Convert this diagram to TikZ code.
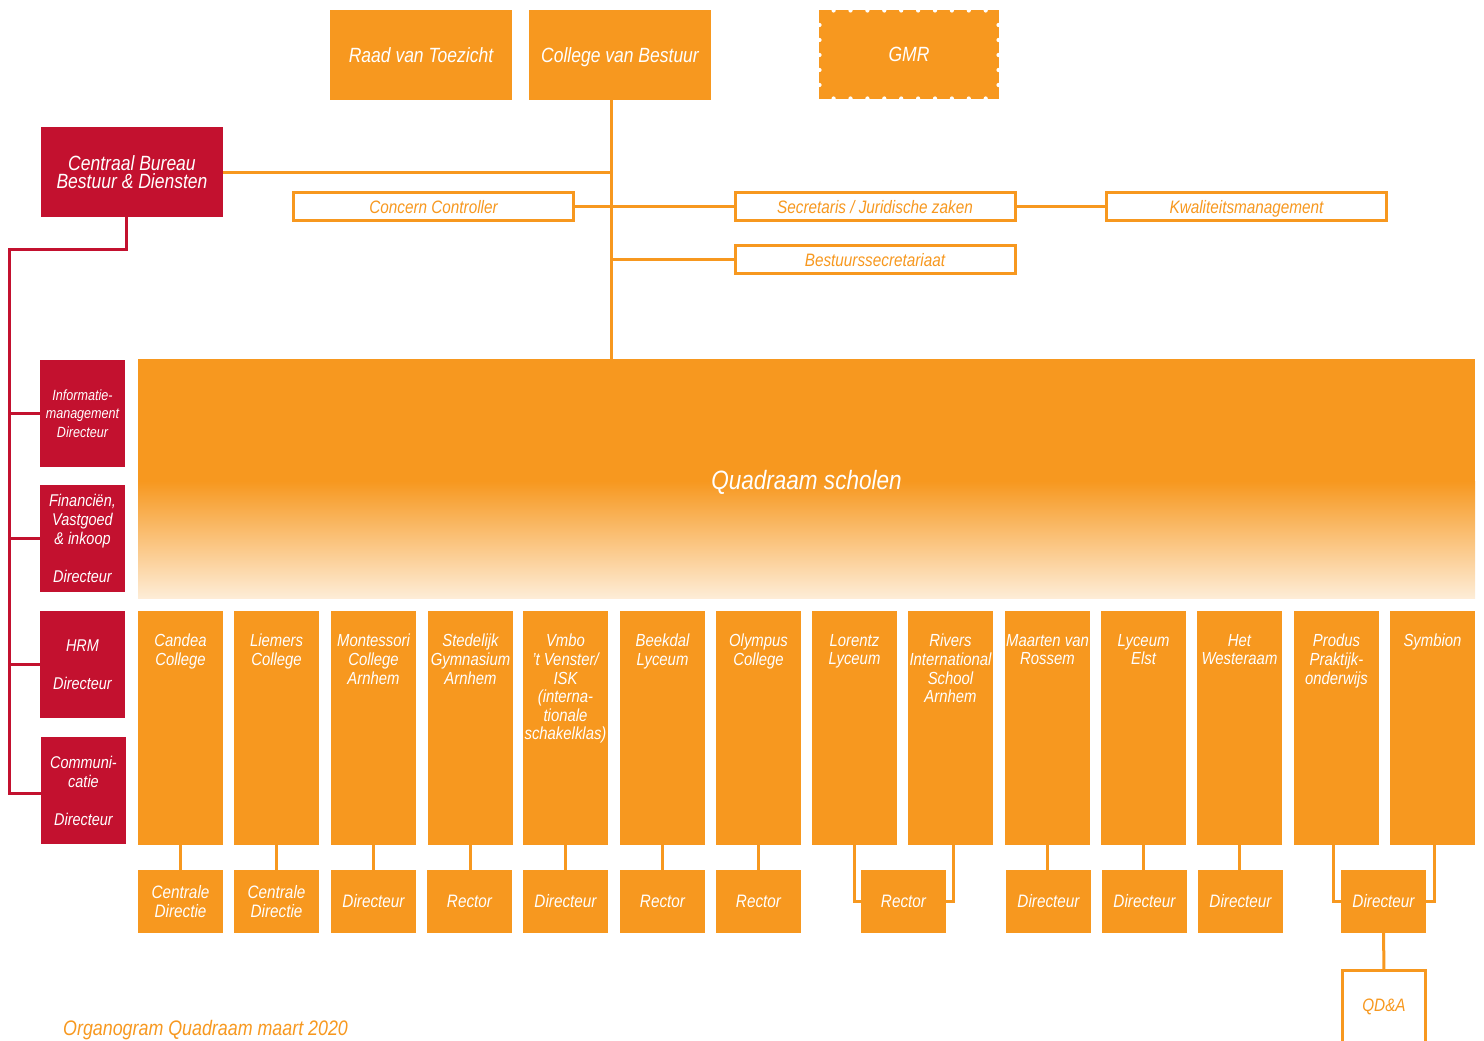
\documentclass[tikz,border=0pt]{standalone}
\usepackage{fontspec}
\setmainfont{Liberation Sans}[FakeStretch=0.85]
\definecolor{qorange}{HTML}{F7981F}
\definecolor{qred}{HTML}{C3112F}
\tikzset{
  base/.style={inner sep=0pt, outer sep=0pt, align=center, text=white},
  topbox/.style={base, fill=qorange, minimum width=182pt, minimum height=90pt, text height=14.6pt, text depth=0pt, font=\itshape\fontsize{20.6}{22}\selectfont},
  redbox/.style={base, fill=qred, minimum width=85pt, minimum height=107pt, font=\itshape\fontsize{17}{19}\selectfont},
  outbox/.style={base, draw=qorange, line width=3pt, fill=white, text=qorange, minimum width=280pt, minimum height=28pt, text height=13pt, text depth=0pt, font=\itshape\fontsize{18}{19}\selectfont},
  schoolbox/.style={base, fill=qorange, minimum width=85pt, minimum height=234pt},
  schooltext/.style={align=center, text=white, inner sep=0pt, font=\itshape\fontsize{17.5}{18.6}\selectfont},
  leadbox/.style={base, fill=qorange, minimum width=85pt, minimum height=63pt, font=\itshape\fontsize{18}{19}\selectfont},
  qdabox/.style={base, text=qorange, minimum width=83pt, minimum height=73pt, font=\itshape\fontsize{18}{19}\selectfont},
  oline/.style={draw=qorange, line width=3pt},
  rline/.style={draw=qred, line width=3pt},
}
\begin{document}
\begin{tikzpicture}[x=1pt, y=-1pt]
\useasboundingbox (0,0) rectangle (1484,1041);

% top boxes
\node[topbox] (raad) at (421,55) {Raad van Toezicht};
\node[topbox] (cvb) at (620,55) {College van Bestuur};
\node[topbox, minimum width=180pt, minimum height=89pt] (gmr) at (909,54.5) {GMR};
\foreach \k in {0,...,9}{
  \fill[white] (833.6+\k*16.9,10.5) circle[radius=2.1pt];
  \fill[white] (833.6+\k*16.9,98.5) circle[radius=2.1pt];
}
\foreach \yy in {25,40,55,70,85}{
  \fill[white] (819.5,\yy) circle[radius=2.1pt];
  \fill[white] (998.5,\yy) circle[radius=2.1pt];
}

\node[redbox, minimum width=182pt, minimum height=90pt, font=\itshape\fontsize{20.6}{18}\selectfont] (cb) at (132,172) {Centraal Bureau\\Bestuur \& Diensten};

% staff boxes
\node[outbox] (cc) at (433.5,206.5) {Concern Controller};
\node[outbox] (sec) at (875,206.5) {Secretaris / Juridische zaken};
\node[outbox] (kw) at (1246.5,206.5) {Kwaliteitsmanagement};
\node[outbox] (bs) at (875,259.5) {Bestuurssecretariaat};

% Quadraam scholen
\fill[qorange] (138,359) rectangle (1475,482);
\shade[top color=qorange, bottom color=qorange!18!white] (138,481) rectangle (1475,598);
\node[base, minimum width=1337pt, minimum height=239pt, text height=22pt, text depth=0pt, font=\itshape\fontsize{26.5}{28}\selectfont] (qs) at (806.5,478.5) {Quadraam scholen};

% trunk
\coordinate (t0) at ([xshift=-9pt]cvb.south);
\draw[oline] (t0) -- (t0 |- qs.north);
\draw[oline] (cb.east) -- (t0 |- cb.east);
\draw[oline] (cc.east) -- (sec.west);
\draw[oline] (sec.east) -- (kw.west);
\draw[oline] (t0 |- bs.west) -- (bs.west);

% red column
\node[redbox, font=\itshape\fontsize{14.8}{18.5}\selectfont] (info) at (82.5,413.5) {Informatie-\\management\\Directeur};
\node[redbox] (fin) at (82.5,538.5) {Financiën,\\Vastgoed\\\& inkoop\\[19pt]Directeur};
\node[redbox] (hrm) at (82.5,664.5) {HRM\\[19pt]Directeur};
\node[redbox] (comm) at (83.5,790.5) {Communi-\\catie\\[19pt]Directeur};

\coordinate (r0) at ([xshift=-6pt]cb.south);
\coordinate (rb) at (9,249);
\draw[rline] (r0) |- (rb) -- (rb |- 0,793) -- (comm.west |- 0,793);
\draw[rline] (rb |- info.west) -- (info.west);
\draw[rline] (rb |- fin.west) -- (fin.west);
\draw[rline] (rb |- hrm.west) -- (hrm.west);

% schools
\foreach \i/\x/\t in {
  1/180.5/{Candea\\College},
  2/276.5/{Liemers\\College},
  3/373.5/{Montessori\\College\\Arnhem},
  4/470.5/{Stedelijk\\Gymnasium\\Arnhem},
  5/565.5/{Vmbo\\'t Venster/\\ISK\\(interna-\\tionale\\schakelklas)},
  6/662.5/{Beekdal\\Lyceum},
  7/758.5/{Olympus\\College},
  8/854.5/{Lorentz\\Lyceum},
  9/950.5/{Rivers\\International\\School\\Arnhem},
  10/1047.5/{Maarten van\\Rossem},
  11/1143.5/{Lyceum\\Elst},
  12/1239.5/{Het\\Westeraam},
  13/1336.5/{Produs\\Praktijk-\\onderwijs},
  14/1432.5/{Symbion}}
{
  \node[schoolbox, label={[schooltext, anchor=north, yshift=-23pt]north:{\t}}] (s\i) at (\x,728) {};
}

% leaders
\foreach \i/\x/\t in {
  1/180.5/{Centrale\\Directie},
  2/276.5/{Centrale\\Directie},
  3/373.5/{Directeur},
  4/469.5/{Rector},
  5/565.5/{Directeur},
  6/662.5/{Rector},
  7/758.5/{Rector},
  8/903.5/{Rector},
  10/1048.5/{Directeur},
  11/1144.5/{Directeur},
  12/1240.5/{Directeur},
  13/1383.5/{Directeur}}
{
  \node[leadbox] (d\i) at (\x,901.5) {\t};
}

\foreach \i in {1,2,3,4,5,6,7,10,11,12}{
  \draw[oline] (s\i.south) -- (s\i.south |- d\i.north);
}
\draw[oline] (s8.south) |- (d8.west);
\draw[oline] ([xshift=2.5pt]s9.south) |- (d8.east);
\draw[oline] ([xshift=-3.5pt]s13.south) |- (d13.west);
\draw[oline] ([xshift=1.5pt]s14.south) |- (d13.east);

% QD&A
\node[qdabox] (qda) at (1384,1007) {QD\&A};
\draw[oline] (qda.south west) |- (qda.north east) -- (qda.south east);
\draw[oline] (d13.south) -- (qda.north);

% caption
\node[anchor=base west, inner sep=0pt, text=qorange, font=\itshape\fontsize{21}{22}\selectfont] (cap) at (63,1035) {Organogram Quadraam maart 2020};
\end{tikzpicture}
\end{document}
